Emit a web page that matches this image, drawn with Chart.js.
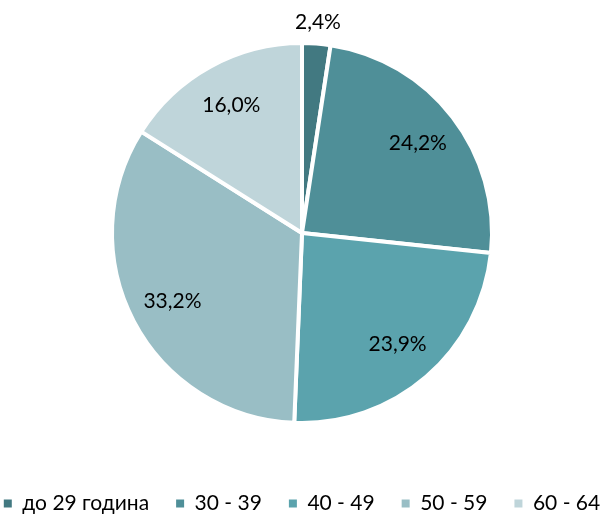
<!DOCTYPE html>
<html>
<head>
<meta charset="utf-8">
<script src="https://cdn.jsdelivr.net/npm/chart.js@4"></script>
<style>
  html, body { margin: 0; padding: 0; background: #fff; }
  #wrap { width: 604px; height: 516px; }
</style>
</head>
<body>
<div id="wrap"><canvas id="myChart" width="604" height="516"></canvas></div>
<script>
'use strict';

// data
let ageGroups = ['до 29 година', '30 - 39', '40 - 49', '50 - 59', '60 - 64'];
let shares = [2.4, 24.2, 23.9, 33.2, 16.0];
let sliceColors = ['#427981', '#4f8f98', '#5ba3ad', '#99bec5', '#bfd5da'];

// draws the percent labels, the small first slice gets its label outside
const sliceLabels = {
  id: 'sliceLabels',
  afterDatasetsDraw(chart) {
    let ctx = chart.ctx;
    let meta = chart.getDatasetMeta(0);
    ctx.save();
    ctx.font = '21px Lato';
    ctx.fillStyle = '#000';
    ctx.textAlign = 'center';
    ctx.textBaseline = 'middle';
    meta.data.forEach(function (arc, i) {
      let mid = (arc.startAngle + arc.endAngle) / 2;
      let r = arc.outerRadius * (shares[i] < 5 ? 1.11 : 0.77);
      let x = arc.x + Math.cos(mid) * r;
      let y = arc.y + Math.sin(mid) * r;
      ctx.fillText(shares[i].toFixed(1).replace('.', ',') + '%', x, y);
    });
    ctx.restore();
  }
};

// keep the legend on one row and low, near the bottom edge
const legendFit = {
  id: 'legendFit',
  beforeInit(chart) {
    let origFit = chart.legend.fit;
    chart.legend.fit = function () {
      this.maxWidth = 2000;
      origFit.call(this);
      this.width = chart.width;
      this.height = 50;
    };
  },
  afterLayout(chart) {
    // widen the box so the last item does not wrap away
    chart.legend.left -= 100;
    chart.legend.right += 100;
  }
};

const data = {
  labels: ageGroups,
  datasets: [{
    data: shares,
    backgroundColor: sliceColors,
    borderColor: '#ffffff',
    borderWidth: 4,
    radius: 190
  }]
};

const config = {
  type: 'pie',
  data: data,
  options: {
    responsive: false,
    animation: false,
    layout: { padding: 0 },
    plugins: {
      tooltip: { enabled: false },
      legend: {
        position: 'bottom',
        labels: {
          font: { family: 'Lato', size: 21 },
          color: '#000',
          boxWidth: 8,
          boxHeight: 8,
          padding: 27,
          generateLabels(chart) {
            let items = Chart.overrides.pie.plugins.legend.labels.generateLabels(chart);
            items.forEach(function (it) {
              it.lineWidth = 0;
              it.strokeStyle = 'rgba(0,0,0,0)';
            });
            return items;
          }
        }
      }
    }
  },
  plugins: [sliceLabels, legendFit]
};

let canvasChart = document.getElementById('myChart');
const myChart = new Chart(canvasChart, config);
</script>
</body>
</html>
